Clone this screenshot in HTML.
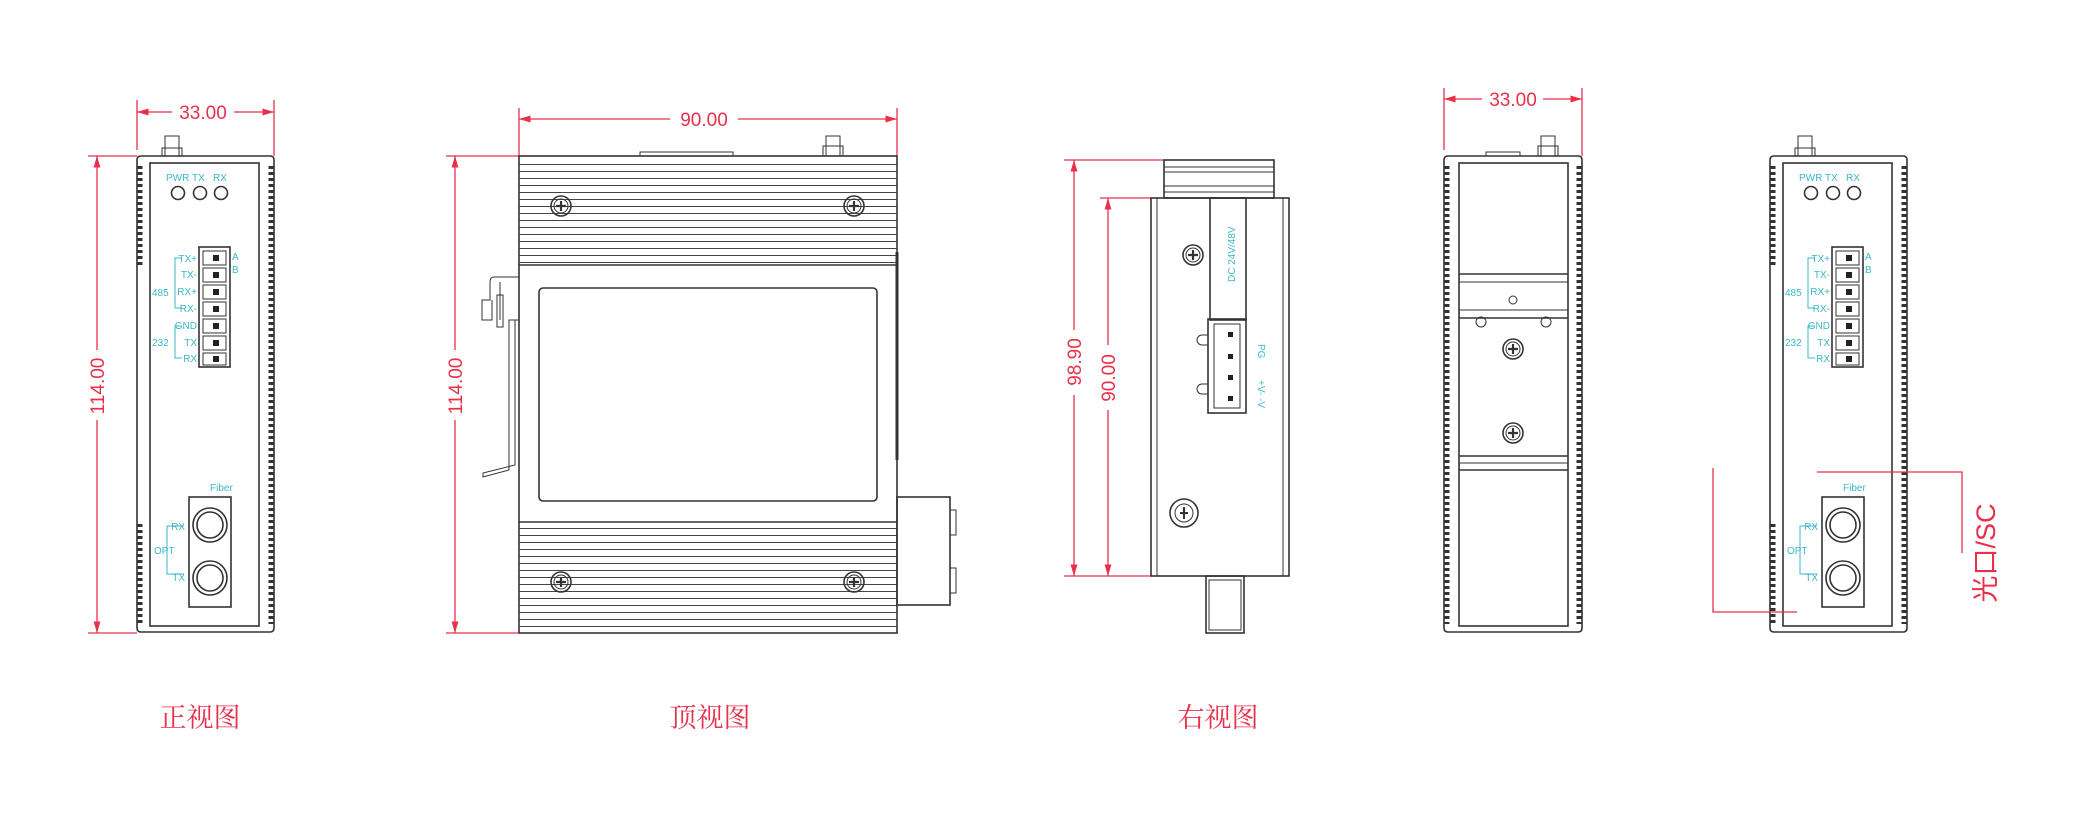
<!DOCTYPE html>
<html><head><meta charset="utf-8"><style>
html,body{margin:0;padding:0;background:#fff;width:2082px;height:824px;overflow:hidden}
svg{display:block}
.r{stroke:#e8304a;stroke-width:1.3;fill:none}
.rt{fill:#e8304a;font-family:"Liberation Sans",sans-serif;font-size:19px}
.ti{fill:#e8304a;font-family:"Noto Serif CJK SC","Noto Sans CJK SC",serif;font-size:27px}
.k{stroke:#333;stroke-width:1.6;fill:none}
.kt{stroke:#333;stroke-width:1;fill:none}
.c{fill:#3bb8c8;font-family:"Liberation Sans",sans-serif;font-size:10px}
</style></head><body>
<svg width="2082" height="824" viewBox="0 0 2082 824" xmlns="http://www.w3.org/2000/svg">
<defs>
<marker id="a" viewBox="0 0 10 10" refX="10" refY="5" markerWidth="9" markerHeight="9" orient="auto-start-reverse"><path d="M0,2 L10,5 L0,8z" fill="#e8304a"/></marker>
<pattern id="fin" width="10" height="7" patternUnits="userSpaceOnUse"><line x1="0" y1="3.5" x2="10" y2="3.5" stroke="#444" stroke-width="1"/></pattern>
<g id="screw"><circle r="10" class="k"/><circle r="7" class="kt"/><path d="M-5,0H5M0,-5V5" stroke="#333" stroke-width="2.2"/></g>
<g id="front">
  <!-- top screw -->
  <rect x="28" y="-20" width="14" height="20" class="kt"/><rect x="25" y="-8" width="20" height="8" class="kt"/>
  <path d="M0,4 Q0,0 4,0 H133 Q137,0 137,4 V472 Q137,476 133,476 H4 Q0,476 0,472Z" class="k"/>
  <rect x="13" y="7" width="109" height="463" class="k"/>
  <line x1="3" y1="10" x2="3" y2="110" stroke="#333" stroke-width="5" stroke-dasharray="3 3"/>
  <line x1="3" y1="368" x2="3" y2="468" stroke="#333" stroke-width="5" stroke-dasharray="3 3"/>
  <line x1="134" y1="10" x2="134" y2="468" stroke="#333" stroke-width="5" stroke-dasharray="3 3"/>
  <text x="29" y="25" class="c">PWR</text><text x="55" y="25" class="c">TX</text><text x="76" y="25" class="c">RX</text>
  <circle cx="41" cy="37" r="6.5" class="k"/><circle cx="63" cy="37" r="6.5" class="k"/><circle cx="84" cy="37" r="6.5" class="k"/>
  <rect x="62" y="91" width="31" height="120" class="k"/>
  <g class="kt">
   <rect x="66" y="95" width="23" height="14"/><rect x="66" y="112" width="23" height="14"/><rect x="66" y="129" width="23" height="14"/><rect x="66" y="146" width="23" height="14"/><rect x="66" y="163" width="23" height="14"/><rect x="66" y="180" width="23" height="14"/><rect x="66" y="197" width="23" height="12"/>
  </g>
  <g fill="#222"><rect x="76" y="99" width="6" height="6"/><rect x="76" y="116" width="6" height="6"/><rect x="76" y="133" width="6" height="6"/><rect x="76" y="150" width="6" height="6"/><rect x="76" y="167" width="6" height="6"/><rect x="76" y="184" width="6" height="6"/><rect x="76" y="200" width="6" height="6"/></g>
  <g class="c" text-anchor="end"><text x="60" y="106">TX+</text><text x="60" y="122">TX-</text><text x="60" y="139">RX+</text><text x="60" y="156">RX-</text><text x="60" y="173">GND</text><text x="60" y="190">TX</text><text x="60" y="206">RX</text></g>
  <text x="15" y="140" class="c" font-size="7">485</text><text x="15" y="190" class="c" font-size="7">232</text>
  <path d="M45,102H38V152H45M45,170H38V202H45" stroke="#3bb8c8" fill="none"/>
  <text x="95" y="104" class="c" font-size="7">A</text><text x="95" y="117" class="c" font-size="7">B</text>
  <text x="73" y="335" class="c" font-size="14">Fiber</text>
  <rect x="52" y="341" width="42" height="110" class="k"/>
  <circle cx="73" cy="369" r="17" class="k"/><circle cx="73" cy="369" r="13" class="k"/>
  <circle cx="73" cy="422" r="17" class="k"/><circle cx="73" cy="422" r="13" class="k"/>
  <path d="M47,370H30V418H47" stroke="#3bb8c8" fill="none"/>
  <text x="48" y="374" class="c" text-anchor="end">RX</text><text x="48" y="425" class="c" text-anchor="end">TX</text>
  <text x="17" y="398" class="c" font-size="7">OPT</text>
</g>
</defs>

<!-- FRONT VIEW -->
<use href="#front" x="137" y="156"/>
<line x1="137" y1="100" x2="137" y2="150" class="r"/><line x1="274" y1="100" x2="274" y2="156" class="r"/>
<line x1="137" y1="112" x2="172" y2="112" class="r" marker-start="url(#a)"/><line x1="234" y1="112" x2="274" y2="112" class="r" marker-end="url(#a)"/>
<text x="203" y="119" class="rt" text-anchor="middle">33.00</text>
<line x1="88" y1="156" x2="137" y2="156" class="r"/><line x1="88" y1="633" x2="137" y2="633" class="r"/>
<line x1="97" y1="156" x2="97" y2="350" class="r" marker-start="url(#a)"/><line x1="97" y1="420" x2="97" y2="633" class="r" marker-end="url(#a)"/>
<text transform="translate(104,386) rotate(-90)" class="rt" text-anchor="middle">114.00</text>
<text x="200" y="727" class="ti" text-anchor="middle">正视图</text>

<!-- TOP VIEW -->
<line x1="519" y1="108" x2="519" y2="156" class="r"/><line x1="897" y1="108" x2="897" y2="156" class="r"/>
<line x1="519" y1="119" x2="670" y2="119" class="r" marker-start="url(#a)"/><line x1="738" y1="119" x2="897" y2="119" class="r" marker-end="url(#a)"/>
<text x="704" y="126" class="rt" text-anchor="middle">90.00</text>
<line x1="446" y1="156" x2="519" y2="156" class="r"/><line x1="446" y1="633" x2="519" y2="633" class="r"/>
<line x1="455" y1="156" x2="455" y2="350" class="r" marker-start="url(#a)"/><line x1="455" y1="420" x2="455" y2="633" class="r" marker-end="url(#a)"/>
<text transform="translate(462,386) rotate(-90)" class="rt" text-anchor="middle">114.00</text>
<rect x="826" y="136" width="14" height="20" class="kt"/><rect x="823" y="146" width="20" height="10" class="kt"/>
<rect x="640" y="152" width="93" height="4" class="kt"/>
<rect x="519" y="156" width="378" height="477" class="k"/>
<rect x="519" y="160" width="378" height="104" fill="url(#fin)"/>
<line x1="519" y1="265" x2="897" y2="265" class="k"/>
<rect x="519" y="524" width="378" height="106" fill="url(#fin)"/>
<line x1="519" y1="522" x2="897" y2="522" class="k"/>
<rect x="539" y="288" width="338" height="213" rx="4" class="k"/>
<use href="#screw" x="561" y="206"/><use href="#screw" x="854" y="206"/>
<use href="#screw" x="561" y="582"/><use href="#screw" x="854" y="582"/>
<path d="M519,277H494Q490,277 490,282V300H482V320H492V300M500,282V320M519,320H509V470L483,477V473L515,465V320" class="kt"/>
<rect x="497" y="295" width="6" height="32" class="kt"/>
<line x1="897" y1="252" x2="897" y2="460" stroke="#333" stroke-width="3"/>
<rect x="897" y="497" width="53" height="108" class="k"/>
<rect x="950" y="510" width="6" height="25" class="kt"/><rect x="950" y="568" width="6" height="25" class="kt"/>
<text x="710" y="727" class="ti" text-anchor="middle">顶视图</text>

<!-- RIGHT VIEW -->
<line x1="1064" y1="160" x2="1164" y2="160" class="r"/><line x1="1064" y1="576" x2="1151" y2="576" class="r"/>
<line x1="1100" y1="198" x2="1151" y2="198" class="r"/>
<line x1="1074" y1="160" x2="1074" y2="330" class="r" marker-start="url(#a)"/><line x1="1074" y1="395" x2="1074" y2="576" class="r" marker-end="url(#a)"/>
<text transform="translate(1081,362) rotate(-90)" class="rt" text-anchor="middle">98.90</text>
<line x1="1108" y1="198" x2="1108" y2="345" class="r" marker-start="url(#a)"/><line x1="1108" y1="410" x2="1108" y2="576" class="r" marker-end="url(#a)"/>
<text transform="translate(1115,378) rotate(-90)" class="rt" text-anchor="middle">90.00</text>
<rect x="1164" y="160" width="110" height="38" class="k"/>
<line x1="1164" y1="167" x2="1274" y2="167" class="kt"/><line x1="1164" y1="172" x2="1274" y2="172" class="kt"/><line x1="1164" y1="186" x2="1274" y2="186" class="kt"/><line x1="1164" y1="192" x2="1274" y2="192" class="kt"/>
<rect x="1151" y="198" width="138" height="378" class="k"/>
<line x1="1157" y1="198" x2="1157" y2="576" class="kt"/><line x1="1283" y1="198" x2="1283" y2="576" class="kt"/>
<rect x="1210" y="198" width="36" height="122" class="k"/>
<text transform="translate(1235,282) rotate(-90)" class="c" font-size="11">DC 24V/48V</text>
<rect x="1208" y="319" width="38" height="94" class="k"/><rect x="1214" y="324" width="26" height="84" class="kt"/>
<g fill="#222"><rect x="1228" y="332" width="5" height="5"/><rect x="1228" y="354" width="5" height="5"/><rect x="1228" y="375" width="5" height="5"/><rect x="1228" y="396" width="5" height="5"/></g>
<path d="M1208,335H1202A4,4 0 0 0 1202,345H1208M1208,384H1202A4,4 0 0 0 1202,394H1208" class="kt"/>
<text transform="translate(1258,344) rotate(90)" class="c">PG</text>
<text transform="translate(1258,380) rotate(90)" class="c">+V- -V</text>
<use href="#screw" x="1193" y="255"/>
<circle cx="1184" cy="513" r="14" class="k"/><circle cx="1184" cy="513" r="9" class="kt"/><path d="M1184,507V519M1180,513H1188" stroke="#333" stroke-width="2"/>
<rect x="1206" y="576" width="38" height="57" class="k"/><rect x="1209" y="580" width="32" height="50" class="kt"/>
<text x="1218" y="727" class="ti" text-anchor="middle">右视图</text>

<!-- BACK VIEW -->
<line x1="1444" y1="88" x2="1444" y2="150" class="r"/><line x1="1582" y1="88" x2="1582" y2="156" class="r"/>
<line x1="1444" y1="99" x2="1482" y2="99" class="r" marker-start="url(#a)"/><line x1="1543" y1="99" x2="1582" y2="99" class="r" marker-end="url(#a)"/>
<text x="1513" y="106" class="rt" text-anchor="middle">33.00</text>
<rect x="1541" y="136" width="14" height="20" class="kt"/><rect x="1538" y="146" width="20" height="10" class="kt"/>
<rect x="1486" y="152" width="34" height="4" class="kt"/>
<path d="M1444,160 Q1444,156 1448,156 H1578 Q1582,156 1582,160 V628 Q1582,632 1578,632 H1448 Q1444,632 1444,628Z" class="k"/>
<rect x="1459" y="163" width="109" height="463" class="k"/>
<line x1="1447" y1="166" x2="1447" y2="624" stroke="#333" stroke-width="5" stroke-dasharray="3 3"/>
<line x1="1579" y1="166" x2="1579" y2="624" stroke="#333" stroke-width="5" stroke-dasharray="3 3"/>
<line x1="1459" y1="274" x2="1568" y2="274" class="k"/><line x1="1459" y1="282" x2="1568" y2="282" class="kt"/>
<line x1="1459" y1="310" x2="1568" y2="310" class="kt"/><line x1="1459" y1="318" x2="1568" y2="318" class="k"/>
<line x1="1459" y1="456" x2="1568" y2="456" class="k"/><line x1="1459" y1="463" x2="1568" y2="463" class="kt"/><line x1="1459" y1="470" x2="1568" y2="470" class="k"/>
<circle cx="1513" cy="300" r="4" class="kt"/>
<circle cx="1481" cy="322" r="5" class="kt"/><circle cx="1546" cy="322" r="5" class="kt"/>
<use href="#screw" x="1513" y="349"/><use href="#screw" x="1513" y="433"/>

<!-- FRONT COPY -->
<use href="#front" x="1770" y="156" transform="translate(0,0)"/>
<path d="M1713,468V612H1797" class="r"/>
<path d="M1817,472H1962V553" class="r"/>
<text transform="translate(1995,553) rotate(-90)" class="ti" font-size="22" text-anchor="middle" style="font-family:'Liberation Sans','Noto Sans CJK SC',sans-serif">光口/SC</text>
</svg>
</body></html>
